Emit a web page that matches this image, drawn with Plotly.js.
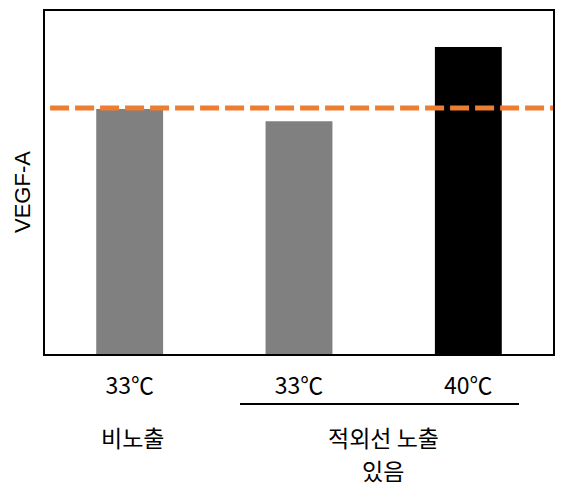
<!DOCTYPE html>
<html>
<head>
<meta charset="utf-8">
<script src="https://cdn.plot.ly/plotly-3.0.1.min.js"></script>
<style>html,body{margin:0;padding:0;background:#fff;}#chart{width:562px;height:494px;}</style>
</head>
<body>
<div id="chart"></div>
<script>
const categories = ["비노출 33℃", "적외선 33℃", "적외선 40℃"];
const tickLabels = ["33℃", "33℃", "40℃"];
const values = [100, 95, 125.3];
const barColors = ["#808080", "#808080", "#000000"];
const referenceValue = 100.4;
const groupLabels = ["비노출", "적외선 노출", "있음"];
const yTitle = "VEGF-A";

const F = '"Noto Sans CJK KR", "Noto Sans", sans-serif';

const trace = {
  type: 'bar',
  x: categories,
  y: values,
  marker: {color: barColors},
  hoverinfo: 'none'
};

function lab(text, px, py) {
  return {text: text, xref: 'paper', yref: 'paper', x: (px-45)/508, y: (354-py)/343,
    xanchor: 'center', yanchor: 'middle', showarrow: false,
    font: {family: F, size: 23, color: '#000'}};
}

const layout = {
  width: 562, height: 494,
  margin: {l: 45, r: 9, t: 11, b: 140},
  paper_bgcolor: '#fff', plot_bgcolor: '#fff',
  bargap: 0.605,
  showlegend: false,
  font: {family: F, size: 23, color: '#000'},
  xaxis: {
    type: 'category',
    tickvals: categories, ticktext: tickLabels,
    showline: true, mirror: true, linecolor: '#000', linewidth: 2,
    ticks: 'outside', ticklen: 10, tickcolor: 'rgba(0,0,0,0)',
    tickfont: {family: F, size: 23, color: '#000'},
    showgrid: false, zeroline: false, fixedrange: true
  },
  yaxis: {
    range: [0, 140],
    showline: true, mirror: true, linecolor: '#000', linewidth: 2,
    showticklabels: false, ticks: '', showgrid: false, zeroline: false, fixedrange: true
  },
  shapes: [
    {type: 'line', xref: 'paper', yref: 'y', x0: 0.01, x1: 1, y0: referenceValue, y1: referenceValue,
     line: {color: '#ED7D31', width: 5, dash: '19px,6px'}},
    {type: 'line', xref: 'paper', yref: 'paper', x0: (240-45)/508, x1: (519-45)/508,
     y0: -50/343, y1: -50/343, line: {color: '#000', width: 2}}
  ],
  annotations: [
    lab(groupLabels[0], 132, 437),
    lab(groupLabels[1], 383, 437),
    lab(groupLabels[2], 383, 470),
    {text: yTitle, xref: 'paper', yref: 'paper', x: (22-45)/508, y: (354-192)/343,
     xanchor: 'center', yanchor: 'middle', textangle: -90, showarrow: false,
     font: {family: '"Liberation Sans", Arial, sans-serif', size: 22, color: '#000'}}
  ]
};

Plotly.newPlot('chart', [trace], layout, {staticPlot: true, displayModeBar: false});
</script>
</body>
</html>
